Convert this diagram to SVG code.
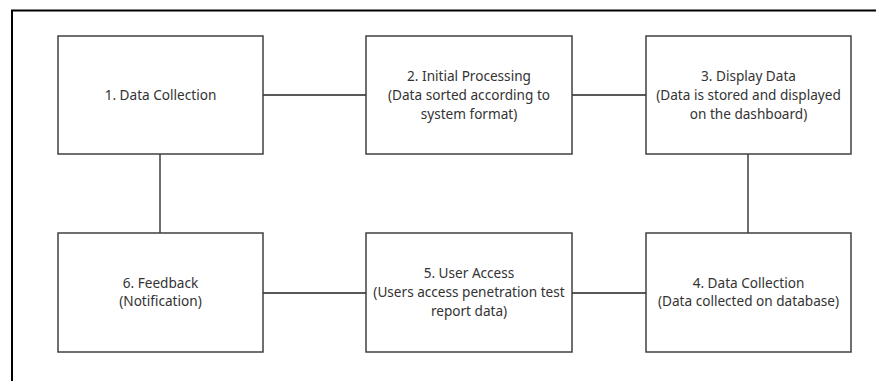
<svg xmlns="http://www.w3.org/2000/svg" width="876" height="381" viewBox="0 0 876 381">
<style>
.box{fill:#fff;stroke:#404040;stroke-width:1.5}
.line{stroke:#202020;stroke-width:1.3;fill:none}
.frame{stroke:#000;stroke-width:2;fill:none}
text{font-family:"Noto Sans","Open Sans",sans-serif;font-size:13.6px;fill:#333;text-anchor:middle}
</style>
<rect width="876" height="381" fill="#fff"/>
<path class="frame" d="M12,381 V10.5 H876"/>
<g id="connectors">
<line class="line" x1="263" y1="95" x2="366" y2="95"/>
<line class="line" x1="572" y1="95" x2="646" y2="95"/>
<line class="line" x1="748" y1="154" x2="748" y2="233"/>
<line class="line" x1="572" y1="293" x2="646" y2="293"/>
<line class="line" x1="263" y1="293" x2="366" y2="293"/>
<line class="line" x1="160" y1="154" x2="160" y2="233"/>
</g>
<g id="n1"><rect class="box" x="58" y="36" width="205" height="118"/><text x="160.5" y="100">1. Data Collection</text></g>
<g id="n2"><rect class="box" x="366" y="36" width="206" height="118"/><text x="469" y="81">2. Initial Processing</text><text x="469" y="100">(Data sorted according to</text><text x="469" y="119">system format)</text></g>
<g id="n3"><rect class="box" x="646" y="36" width="205" height="118"/><text x="748.5" y="81">3. Display Data</text><text x="748.5" y="100">(Data is stored and displayed</text><text x="748.5" y="119">on the dashboard)</text></g>
<g id="n4"><rect class="box" x="646" y="233" width="205" height="119"/><text x="748.5" y="288">4. Data Collection</text><text x="748.5" y="306">(Data collected on database)</text></g>
<g id="n5"><rect class="box" x="366" y="233" width="206" height="119"/><text x="469" y="278">5. User Access</text><text x="469" y="297">(Users access penetration test</text><text x="469" y="316">report data)</text></g>
<g id="n6"><rect class="box" x="58" y="233" width="205" height="119"/><text x="160.5" y="288">6. Feedback</text><text x="160.5" y="306">(Notification)</text></g>
</svg>
